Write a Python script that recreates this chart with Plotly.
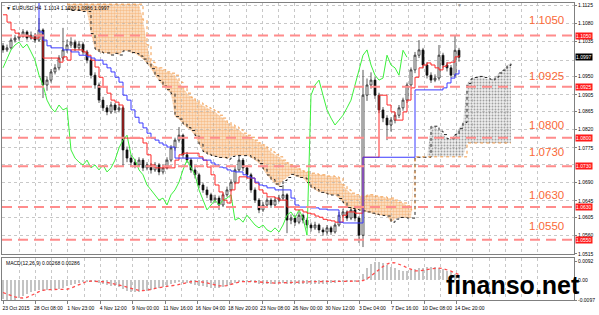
import plotly.graph_objects as go

# ---------------- data (EURUSD H4, two H4 bars per slot) ----------------
open_ = [1.1025, 1.1015, 1.1020, 1.1039, 1.1044, 1.1049, 1.1059, 1.1044, 1.1051, 1.1039,
         1.1064, 1.0929, 1.0941, 1.0961, 1.0971, 1.0995, 1.1015, 1.1027, 1.1034, 1.1020,
         1.1029, 1.1010, 1.0990, 1.0953, 1.0929, 1.0892, 1.0873, 1.0863, 1.0880, 1.0868,
         1.0873, 1.0770, 1.0750, 1.0740, 1.0733, 1.0745, 1.0726, 1.0733, 1.0721, 1.0733,
         1.0716, 1.0726, 1.0745, 1.0775, 1.0794, 1.0806, 1.0758, 1.0745, 1.0721, 1.0709,
         1.0684, 1.0672, 1.0660, 1.0647, 1.0652, 1.0635, 1.0660, 1.0672, 1.0691, 1.0721,
         1.0745, 1.0726, 1.0709, 1.0672, 1.0647, 1.0623, 1.0635, 1.0647, 1.0635, 1.0647,
         1.0652, 1.0660, 1.0598, 1.0603, 1.0593, 1.0610, 1.0598, 1.0586, 1.0579, 1.0586,
         1.0574, 1.0569, 1.0579, 1.0569, 1.0586, 1.0610, 1.0618, 1.0603, 1.0623, 1.0603,
         1.0561, 1.0904, 1.0929, 1.0941, 1.0904, 1.0868, 1.0848, 1.0831, 1.0843, 1.0855,
         1.0873, 1.0892, 1.0929, 1.0966, 1.1002, 1.1015, 1.0978, 1.0953, 1.0941, 1.0946,
         1.1002, 1.0978, 1.0971, 1.0953, 1.1014]
close = [1.1015, 1.1020, 1.1039, 1.1044, 1.1049, 1.1059, 1.1044, 1.1051, 1.1039, 1.1064,
         1.0929, 1.0941, 1.0961, 1.0971, 1.0995, 1.1015, 1.1027, 1.1034, 1.1020, 1.1029,
         1.1010, 1.0990, 1.0953, 1.0929, 1.0892, 1.0873, 1.0863, 1.0880, 1.0868, 1.0873,
         1.0770, 1.0750, 1.0740, 1.0733, 1.0745, 1.0726, 1.0733, 1.0721, 1.0733, 1.0716,
         1.0726, 1.0745, 1.0775, 1.0794, 1.0806, 1.0758, 1.0745, 1.0721, 1.0709, 1.0684,
         1.0672, 1.0660, 1.0647, 1.0652, 1.0635, 1.0660, 1.0672, 1.0691, 1.0721, 1.0745,
         1.0726, 1.0709, 1.0672, 1.0647, 1.0623, 1.0635, 1.0647, 1.0635, 1.0647, 1.0652,
         1.0660, 1.0598, 1.0603, 1.0593, 1.0610, 1.0598, 1.0586, 1.0579, 1.0586, 1.0574,
         1.0569, 1.0579, 1.0569, 1.0586, 1.0610, 1.0618, 1.0603, 1.0623, 1.0603, 1.0561,
         1.0904, 1.0929, 1.0941, 1.0904, 1.0868, 1.0848, 1.0831, 1.0843, 1.0855, 1.0873,
         1.0892, 1.0929, 1.0966, 1.1002, 1.1015, 1.0978, 1.0953, 1.0941, 1.0946, 1.1002,
         1.0978, 1.0971, 1.0953, 1.1014, 1.0997]
high = [1.1032, 1.1028, 1.1045, 1.1052, 1.1058, 1.1066, 1.1063, 1.1060, 1.1056, 1.1093,
        1.1068, 1.0950, 1.0968, 1.0980, 1.1002, 1.1069, 1.1040, 1.1046, 1.1040, 1.1037,
        1.1034, 1.1015, 1.0995, 1.0960, 1.0935, 1.0900, 1.0880, 1.0888, 1.0885, 1.0882,
        1.0878, 1.0778, 1.0758, 1.0748, 1.0752, 1.0750, 1.0740, 1.0738, 1.0740, 1.0738,
        1.0735, 1.0752, 1.0782, 1.0800, 1.0826, 1.0810, 1.0765, 1.0750, 1.0728, 1.0714,
        1.0690, 1.0680, 1.0665, 1.0660, 1.0658, 1.0665, 1.0680, 1.0698, 1.0728, 1.0758,
        1.0750, 1.0732, 1.0714, 1.0678, 1.0652, 1.0642, 1.0654, 1.0652, 1.0655, 1.0660,
        1.0684, 1.0664, 1.0612, 1.0610, 1.0618, 1.0614, 1.0604, 1.0592, 1.0594, 1.0590,
        1.0580, 1.0586, 1.0584, 1.0592, 1.0618, 1.0626, 1.0622, 1.0630, 1.0628, 1.0608,
        1.0966, 1.0945, 1.0960, 1.0948, 1.0910, 1.0875, 1.0855, 1.0850, 1.0862, 1.0880,
        1.0898, 1.0935, 1.0972, 1.1010, 1.1039, 1.1020, 1.0985, 1.0960, 1.0955, 1.1027,
        1.1008, 1.0985, 1.0978, 1.1049, 1.1020]
low = [1.1008, 1.1010, 1.1016, 1.1033, 1.1038, 1.1045, 1.1038, 1.1040, 1.1032, 1.1035,
       1.0897, 1.0915, 1.0935, 1.0955, 1.0965, 1.0990, 1.1008, 1.1020, 1.1012, 1.1014,
       1.1003, 1.0982, 1.0945, 1.0920, 1.0885, 1.0865, 1.0855, 1.0858, 1.0860, 1.0862,
       1.0730, 1.0740, 1.0730, 1.0725, 1.0728, 1.0718, 1.0720, 1.0712, 1.0716, 1.0708,
       1.0710, 1.0722, 1.0740, 1.0768, 1.0788, 1.0750, 1.0738, 1.0714, 1.0700, 1.0676,
       1.0665, 1.0652, 1.0640, 1.0640, 1.0623, 1.0630, 1.0655, 1.0668, 1.0686, 1.0716,
       1.0718, 1.0700, 1.0665, 1.0640, 1.0615, 1.0618, 1.0630, 1.0628, 1.0630, 1.0642,
       1.0646, 1.0566, 1.0588, 1.0584, 1.0588, 1.0590, 1.0578, 1.0570, 1.0574, 1.0566,
       1.0560, 1.0562, 1.0562, 1.0565, 1.0582, 1.0604, 1.0596, 1.0598, 1.0595, 1.0542,
       1.0532, 1.0890, 1.0920, 1.0895, 1.0860, 1.0838, 1.0794, 1.0815, 1.0835, 1.0848,
       1.0866, 1.0885, 1.0922, 1.0958, 1.0995, 1.0970, 1.0945, 1.0934, 1.0936, 1.0940,
       1.0970, 1.0962, 1.0946, 1.0948, 1.0986]
tenkan = [1.1101, 1.1083, 1.1064, 1.1056, 1.1049, 1.1049, 1.1049, 1.1044, 1.1044, 1.1051,
          1.0995, 1.0995, 1.0995, 1.0995, 1.0985, 1.0998, 1.0990, 1.1015, 1.1015, 1.1015,
          1.1010, 1.1002, 1.0990, 1.0973, 1.0948, 1.0924, 1.0909, 1.0892, 1.0887, 1.0880,
          1.0799, 1.0799, 1.0799, 1.0799, 1.0799, 1.0787, 1.0758, 1.0733, 1.0726, 1.0726,
          1.0726, 1.0726, 1.0726, 1.0745, 1.0758, 1.0762, 1.0762, 1.0762, 1.0762, 1.0753,
          1.0745, 1.0728, 1.0709, 1.0684, 1.0667, 1.0647, 1.0640, 1.0672, 1.0689, 1.0704,
          1.0704, 1.0701, 1.0701, 1.0689, 1.0672, 1.0664, 1.0655, 1.0655, 1.0652, 1.0647,
          1.0647, 1.0630, 1.0630, 1.0623, 1.0623, 1.0618, 1.0615, 1.0613, 1.0608, 1.0605,
          1.0600, 1.0598, 1.0596, 1.0593, 1.0593, 1.0610, 1.0618, 1.0618, 1.0615, 1.0615,
          1.0752, 1.0752, 1.0752, 1.0752, 1.0904, 1.0904, 1.0880, 1.0863, 1.0843, 1.0843,
          1.0863, 1.0892, 1.0922, 1.0948, 1.0971, 1.0978, 1.0983, 1.0978, 1.0971, 1.0966,
          1.0975, 1.0983, 1.0985, 1.0998, 1.1002]
kijun = [1.1174, 1.1174, 1.1174, 1.1174, 1.1174, 1.1174, 1.1174, 1.1174, 1.1174, 1.1059,
         1.1039, 1.1025, 1.1020, 1.1020, 1.1020, 1.1015, 1.1015, 1.1010, 1.1010, 1.1002,
         1.1002, 1.0998, 1.0995, 1.0990, 1.0990, 1.0980, 1.0971, 1.0961, 1.0948, 1.0936,
         1.0904, 1.0892, 1.0868, 1.0850, 1.0836, 1.0824, 1.0811, 1.0799, 1.0794, 1.0787,
         1.0782, 1.0777, 1.0777, 1.0750, 1.0750, 1.0750, 1.0750, 1.0750, 1.0750, 1.0750,
         1.0745, 1.0745, 1.0738, 1.0733, 1.0728, 1.0726, 1.0721, 1.0718, 1.0716, 1.0716,
         1.0709, 1.0704, 1.0701, 1.0691, 1.0684, 1.0682, 1.0677, 1.0677, 1.0672, 1.0672,
         1.0672, 1.0672, 1.0652, 1.0635, 1.0630, 1.0630, 1.0630, 1.0628, 1.0628, 1.0625,
         1.0625, 1.0623, 1.0623, 1.0623, 1.0593, 1.0591, 1.0591, 1.0591, 1.0591, 1.0591,
         1.0752, 1.0752, 1.0752, 1.0752, 1.0752, 1.0752, 1.0752, 1.0752, 1.0752, 1.0752,
         1.0752, 1.0752, 1.0752, 1.0917, 1.0917, 1.0917, 1.0917, 1.0917, 1.0917, 1.0917,
         1.0922, 1.0934, 1.0946, 1.0956, 1.0966]
# Senkou span B, already shifted 26 H4 bars forward; first value sits at slot 16
# (the first 19 values sit at the top edge of the chart)
span_b_start = 16
span_b = [1.1127] * 19 + [
    1.1088, 1.1027, 1.0985, 1.0973, 1.0971, 1.0966, 1.0961, 1.0958, 1.0953, 1.0936,
    1.0922, 1.0909, 1.0899, 1.0892, 1.0885, 1.0878, 1.0873, 1.0868, 1.0863, 1.0855,
    1.0848, 1.0838, 1.0831, 1.0826, 1.0819, 1.0811, 1.0806, 1.0801, 1.0794, 1.0787,
    1.0782, 1.0775, 1.0765, 1.0758, 1.0753, 1.0745, 1.0738, 1.0733, 1.0728, 1.0723,
    1.0718, 1.0716, 1.0713, 1.0711, 1.0709, 1.0709, 1.0706, 1.0706, 1.0704, 1.0701,
    1.0684, 1.0672, 1.0664, 1.0660, 1.0657, 1.0655, 1.0660, 1.0660, 1.0657, 1.0655,
    1.0655, 1.0652, 1.0652, 1.0647, 1.0642, 1.0640, 1.0633, 1.0623, 1.0753, 1.0753,
    1.0753, 1.0753, 1.0753, 1.0753, 1.0753, 1.0753, 1.0753, 1.0753, 1.0753, 1.0753, 1.0753,
    1.0787, 1.0787, 1.0787, 1.0787, 1.0787, 1.0787, 1.0787, 1.0787, 1.0787, 1.0787, 1.0787, 1.0787]
macd_main = [-0.0090, -0.0098, -0.0100, -0.0096, -0.0088, -0.0078, -0.0068, -0.0060, -0.0054, -0.0048,
             -0.0052, -0.0050, -0.0048, -0.0045, -0.0042, -0.0036, -0.0030, -0.0024, -0.0018, -0.0013,
             -0.0009, -0.0006, -0.0005, -0.0007, -0.0012, -0.0018, -0.0024, -0.0028, -0.0030, -0.0032,
             -0.0045, -0.0052, -0.0056, -0.0058, -0.0058, -0.0055, -0.0052, -0.0048, -0.0044, -0.0040,
             -0.0034, -0.0028, -0.0020, -0.0014, -0.0010, -0.0012, -0.0014, -0.0018, -0.0022, -0.0026,
             -0.0030, -0.0033, -0.0036, -0.0036, -0.0036, -0.0033, -0.0028, -0.0022, -0.0015, -0.0008,
             -0.0006, -0.0007, -0.0010, -0.0014, -0.0018, -0.0020, -0.0020, -0.0019, -0.0017, -0.0015,
             -0.0014, -0.0018, -0.0020, -0.0020, -0.0018, -0.0018, -0.0018, -0.0019, -0.0018, -0.0018,
             -0.0018, -0.0016, -0.0015, -0.0012, -0.0008, -0.0005, -0.0004, -0.0003, -0.0004, -0.0008,
             0.0030, 0.0060, 0.0082, 0.0092, 0.0090, 0.0084, 0.0076, 0.0068, 0.0060, 0.0052,
             0.0048, 0.0047, 0.0050, 0.0055, 0.0060, 0.0063, 0.0065, 0.0066, 0.0065, 0.0062,
             0.0056, 0.0048, 0.0040, 0.0033, 0.00268]
macd_signal = [-0.0060, -0.0068, -0.0076, -0.0082, -0.0086, -0.0087, -0.0084, -0.0076, -0.0066, -0.0056,
               -0.0049, -0.0046, -0.0046, -0.0046, -0.0046, -0.0046, -0.0044, -0.0038, -0.0030, -0.0020,
               -0.0010, -0.0005, -0.0004, -0.0004, -0.0005, -0.0007, -0.0010, -0.0014, -0.0018, -0.0023,
               -0.0028, -0.0034, -0.0040, -0.0046, -0.0050, -0.0051, -0.0049, -0.0045, -0.0040, -0.0036,
               -0.0032, -0.0029, -0.0027, -0.0025, -0.0020, -0.0014, -0.0010, -0.0007, -0.0005, -0.0006,
               -0.0009, -0.0013, -0.0018, -0.0023, -0.0027, -0.0028, -0.0026, -0.0020, -0.0014, -0.0009,
               -0.0006, -0.0005, -0.0005, -0.0006, -0.0008, -0.0010, -0.0012, -0.0014, -0.0014, -0.0013,
               -0.0012, -0.0010, -0.0009, -0.0008, -0.0007, -0.0006, -0.0006, -0.0006, -0.0006, -0.0006,
               -0.0006, -0.0006, -0.0006, -0.0006, -0.0006, -0.0005, -0.0005, -0.0005, -0.0005, -0.0004,
               -0.0001, 0.0008, 0.0022, 0.0038, 0.0055, 0.0068, 0.0080, 0.0087, 0.0086, 0.0080,
               0.0072, 0.0062, 0.0053, 0.0047, 0.0046, 0.0048, 0.0053, 0.0057, 0.0060, 0.0060,
               0.0058, 0.0052, 0.0045, 0.0036, 0.00286]
date_labels = ["23 Oct 2015", "28 Oct 08:00", "1 Nov 23:00", "4 Nov 12:00", "9 Nov 00:00",
               "11 Nov 16:00", "16 Nov 04:00", "18 Nov 20:00", "23 Nov 08:00", "26 Nov 00:00",
               "30 Nov 12:00", "3 Dec 04:00", "7 Dec 16:00", "10 Dec 08:00", "14 Dec 20:00"]
price_ticks = [1.1125, 1.1080, 1.1035, 1.0950, 1.0905, 1.0865, 1.0820, 1.0775,
               1.0690, 1.0645, 1.0605, 1.0560, 1.0515]
grid_prices = [1.1125, 1.1080, 1.1035, 1.0990, 1.0950, 1.0905, 1.0865, 1.0820, 1.0775,
               1.0735, 1.0690, 1.0645, 1.0605, 1.0560]
levels = [1.1050, 1.0925, 1.0800, 1.0730, 1.0630, 1.0550]
current_price = 1.0997
macd_ticks = [0.0092, 0.0, -0.0097]
macd_tick_text = ["0.0092", "0.00", "-0.0097"]
shift = 13          # 26 H4 bars
label_step = 8.1    # slots between date labels

n = len(close)
xs = list(range(n))
span_a = {i: (tenkan[i - shift] + kijun[i - shift]) / 2 for i in range(span_b_start, n + shift)}
span_b_d = {span_b_start + k: v for k, v in enumerate(span_b)}
twist = 103
split = 35

ORANGE = "#F29A48"
FONT = "Liberation Sans, Arial"
fig = go.Figure()
shapes = []


def cloud_part(idx, lower, upper, color, solidity, tint):
    xx = [float(i) for i in idx]
    top = [float(upper[i]) for i in idx]
    bot = [float(lower[i]) for i in idx]
    # light tint drawn as a layout path shape (from the same span values)
    pts = list(zip(xx, top)) + list(zip(xx[::-1], bot[::-1]))
    path = "M " + " L ".join(f"{px},{py}" for px, py in pts) + " Z"
    shapes.append(dict(type="path", path=path, xref="x", yref="y", fillcolor=tint,
                       line=dict(width=0), layer="below"))
    fig.add_trace(go.Scatter(x=xx + xx[::-1], y=top + bot[::-1],
                             mode="lines", fill="toself", line=dict(width=0, simplify=False),
                             fillcolor="rgba(0,0,0,0)",
                             fillpattern=dict(shape=".", fgcolor=color, bgcolor="rgba(0,0,0,0)",
                                              size=3, solidity=solidity),
                             hoverinfo="skip", showlegend=False))


# cloud (orange: B above A, dark: A above B)
cloud_part(list(range(span_b_start, split + 1)), span_a, span_b_d, ORANGE, 0.55, "rgba(246,170,100,0.30)")
cloud_part(list(range(split, twist + 1)), span_a, span_b_d, ORANGE, 0.55, "rgba(246,170,100,0.30)")
cloud_part(list(range(twist, n + shift)), span_b_d, span_a, "#555555", 0.3, "rgba(110,110,110,0.12)")

a_idx = list(range(span_b_start, n + shift))
fig.add_trace(go.Scatter(x=a_idx, y=[span_a[i] for i in a_idx], mode="lines",
                         line=dict(color="#222222", width=1, dash="dot", shape="hv"), showlegend=False))
fig.add_trace(go.Scatter(x=a_idx, y=[span_b_d[i] for i in a_idx], mode="lines",
                         line=dict(color=ORANGE, width=1, dash="dot", shape="hv"), showlegend=False))

# chikou span
fig.add_trace(go.Scatter(x=[i - shift for i in range(shift, n)], y=close[shift:], mode="lines",
                         line=dict(color="#3CF03C", width=1), showlegend=False))

# candles
fig.add_trace(go.Candlestick(
    x=xs, open=open_, high=high, low=low, close=close,
    increasing=dict(line=dict(color="#111111", width=0.7), fillcolor="#FFFFFF"),
    decreasing=dict(line=dict(color="#111111", width=0.7), fillcolor="#111111"),
    whiskerwidth=0, showlegend=False))

fig.add_trace(go.Scatter(x=xs, y=tenkan, mode="lines", line=dict(color="#FF2A2A", width=1, shape="hv"),
                         showlegend=False))
fig.add_trace(go.Scatter(x=xs, y=kijun, mode="lines", line=dict(color="#3A3AFF", width=1, shape="hv"),
                         showlegend=False))

# MACD
fig.add_trace(go.Bar(x=xs, y=macd_main, marker=dict(color="#C4C4C4", line=dict(width=0)),
                     width=0.35, xaxis="x2", yaxis="y2", showlegend=False))
fig.add_trace(go.Scatter(x=xs, y=macd_signal, mode="lines", line=dict(color="#FF4A4A", width=1.3, dash="dot"),
                         xaxis="x2", yaxis="y2", showlegend=False))

for lv in levels:
    shapes.append(dict(type="line", xref="paper", x0=0, x1=1, yref="y", y0=lv, y1=lv,
                       line=dict(color="#FF8C8C", width=2, dash="10px,6px"), layer="above"))

annotations = []
label_shift = [16, 10.5, 13, 14, 12, 13.5]
for lv, ys in zip(levels, label_shift):
    annotations.append(dict(xref="paper", x=0.986, xanchor="right", yref="y", y=lv, yanchor="middle",
                            yshift=ys, text=f"{lv:.4f}", showarrow=False,
                            font=dict(size=11.5, color="#FA6A38", family=FONT)))
    annotations.append(dict(xref="paper", x=1, xanchor="left", xshift=1, yref="y", y=lv, yanchor="middle",
                            text=f"{lv:.4f}", showarrow=False, bgcolor="#FF1A1A", borderpad=0,
                            font=dict(size=5, color="#FFFFFF", family=FONT)))
annotations.append(dict(xref="paper", x=1, xanchor="left", xshift=1, yref="y", y=current_price,
                        yanchor="middle", text=f"{current_price:.4f}", showarrow=False, bgcolor="#000000",
                        borderpad=0, font=dict(size=5, color="#FFFFFF", family=FONT)))
annotations.append(dict(xref="paper", x=0.003, xanchor="left", yref="paper", y=0.984, yanchor="middle",
                        text="▼ EURUSD,H4  1.1014 1.1020 1.0986 1.0997", showarrow=False,
                        font=dict(size=5, color="#000000", family=FONT)))
annotations.append(dict(xref="paper", x=0.003, xanchor="left", yref="paper", y=0.125, yanchor="middle",
                        text="MACD(12,26,9) 0.00268 0.00286", showarrow=False,
                        font=dict(size=5, color="#000000", family=FONT)))
annotations.append(dict(xref="x", x=n - 1, yref="paper", y=0.994, yanchor="middle",
                        text="▼", showarrow=False, font=dict(size=5, color="#999999")))
annotations.append(dict(xref="paper", x=0.893, xanchor="center", yref="paper", y=0.05, yanchor="middle",
                        text="<b>finanso.net</b>", showarrow=False,
                        font=dict(size=25, color="#000000", family=FONT)))

GRID = "#C8C8C8"
date_ticks = [k * label_step for k in range(len(date_labels))]
minor_ticks = [k * label_step / 2 for k in range(2 * len(date_labels) + 4)]
fig.update_layout(
    width=599, height=315, margin=dict(l=2, r=25, t=3, b=15),
    paper_bgcolor="#FFFFFF", plot_bgcolor="#FFFFFF", showlegend=False,
    shapes=shapes, annotations=annotations, bargap=0,
    font=dict(family=FONT, size=5, color="#000000"),
    xaxis=dict(domain=[0, 1], anchor="y", range=[-0.25, 142.75], rangeslider=dict(visible=False),
               showticklabels=False, tickvals=date_ticks,
               showgrid=True, gridcolor=GRID, griddash="dot", gridwidth=1,
               minor=dict(tickvals=minor_ticks, showgrid=True, gridcolor=GRID, griddash="dot"),
               showline=True, mirror=True, linecolor="#808080", zeroline=False, ticks=""),
    yaxis=dict(domain=[0.1549, 1], anchor="x", side="right", range=[1.0515, 1.11299],
               tickvals=price_ticks, ticktext=[f"{v:.4f}" for v in price_ticks],
               tickfont=dict(size=5), ticks="outside", ticklen=2, tickcolor="#808080",
               showgrid=False, zeroline=False,
               minor=dict(tickvals=grid_prices, showgrid=True, gridcolor=GRID, griddash="dot", ticks=""),
               showline=True, mirror=True, linecolor="#808080"),
    xaxis2=dict(domain=[0, 1], anchor="y2", matches="x", range=[-0.25, 142.75],
                tickvals=date_ticks, ticktext=date_labels,
                tickfont=dict(size=5), ticks="outside", ticklen=3, tickcolor="#808080", ticklabelshift=13,
                showgrid=True, gridcolor=GRID, griddash="dot",
                minor=dict(tickvals=minor_ticks, showgrid=True, gridcolor=GRID, griddash="dot"),
                showline=True, mirror=True, linecolor="#808080", zeroline=False),
    yaxis2=dict(domain=[0, 0.1414], anchor="x2", side="right", range=[-0.0097, 0.0110],
                tickvals=macd_ticks, ticktext=macd_tick_text, tickfont=dict(size=5),
                ticks="outside", ticklen=2, tickcolor="#808080", showgrid=False, zeroline=False,
                showline=True, mirror=True, linecolor="#808080"),
)

fig.write_html("out.html")
